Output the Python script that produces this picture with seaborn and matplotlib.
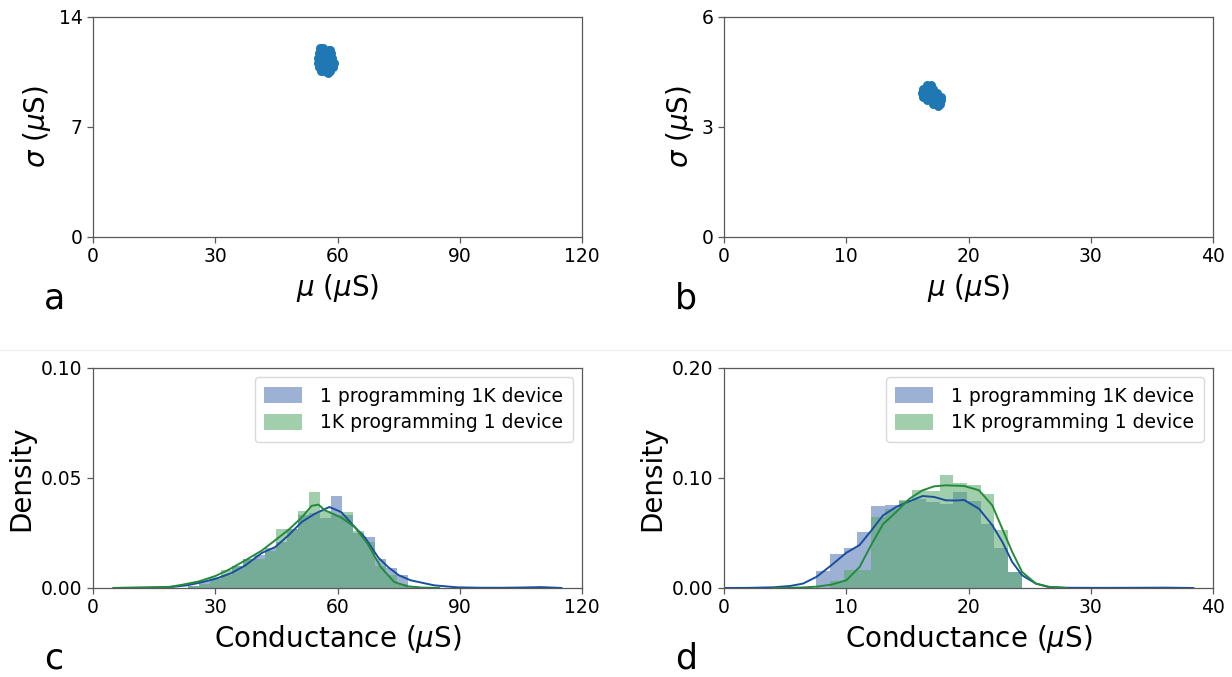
import numpy as np
import pandas as pd
import matplotlib
matplotlib.use("Agg")
import matplotlib.pyplot as plt
from matplotlib.lines import Line2D
import seaborn as sns

# ---------------- data ----------------
# panel a: (mu, sigma) per device cluster
mu_a = [55.8, 56.4, 57.8, 58.2,
        55.5, 56.2, 56.9, 57.6, 58.3,
        55.2, 55.9, 56.6, 57.3, 58.0, 58.7,
        55.1, 55.8, 56.5, 57.2, 57.9, 58.6, 59.1,
        55.4, 56.1, 56.8, 57.5, 58.2, 58.9,
        56.0, 56.7, 57.4, 58.1, 57.6]
sigma_a = [12.0, 12.0, 11.9, 11.9,
           11.7, 11.7, 11.7, 11.7, 11.7,
           11.4, 11.4, 11.4, 11.4, 11.4, 11.4,
           11.1, 11.1, 11.1, 11.1, 11.1, 11.1, 11.1,
           10.8, 10.8, 10.8, 10.8, 10.8, 10.8,
           10.55, 10.55, 10.55, 10.55, 10.45]

# panel b
mu_b = [16.6, 16.9,
        16.3, 16.6, 16.9, 17.1,
        16.2, 16.5, 16.8, 17.1, 17.4,
        16.3, 16.6, 16.9, 17.2, 17.5, 17.75,
        16.6, 16.9, 17.2, 17.5, 17.75,
        17.1, 17.4, 17.7, 17.5]
sigma_b = [4.13, 4.13,
           4.03, 4.03, 4.03, 4.03,
           3.93, 3.93, 3.93, 3.93, 3.93,
           3.83, 3.83, 3.83, 3.83, 3.83, 3.83,
           3.73, 3.73, 3.73, 3.73, 3.73,
           3.63, 3.63, 3.63, 3.57]

# panel c histograms (bin edges / densities)
edges_c = [23.2 + 2.7 * k for k in range(22)]
blue_c = [0.001, 0.003, 0.004, 0.006, 0.010, 0.013, 0.015, 0.018, 0.021, 0.027, 0.033,
          0.034, 0.032, 0.042, 0.033, 0.025, 0.023, 0.013, 0.009, 0.006, 0.001]
green_c = [0.001, 0.002, 0.005, 0.008, 0.010, 0.013, 0.013, 0.017, 0.027, 0.027, 0.035,
           0.0435, 0.035, 0.033, 0.0345, 0.026, 0.021, 0.010, 0.006, 0.002, 0.0]
kde_blue_c_x = [5, 10, 15, 19.5, 23, 26, 30.1, 34, 37.4, 41.4, 44.7, 48, 51.2, 54.5, 58,
                60.9, 64.2, 66.7, 70, 72.4, 75, 77.9, 83.7, 89.3, 95, 100, 105, 110, 115]
kde_blue_c_y = [0.0, 0.0001, 0.0002, 0.0005, 0.0012, 0.0023, 0.0042, 0.0068, 0.0103, 0.0159,
                0.0186, 0.024, 0.030, 0.0338, 0.0368, 0.0345, 0.0277, 0.023, 0.0138, 0.0095,
                0.0058, 0.0035, 0.0012, 0.0003, 0.0001, 0.0001, 0.0002, 0.0004, 0.0]
kde_green_c_x = [5, 12, 18.7, 22, 26, 30.1, 33.3, 37.4, 41.4, 44.7, 48, 51.2, 53.6, 55.3,
                 56.9, 58.5, 60.9, 64.2, 67.4, 70.6, 73.9, 77.1, 80.4, 85]
kde_green_c_y = [0.0, 0.0002, 0.0005, 0.0015, 0.003, 0.0055, 0.0083, 0.0126, 0.017, 0.0217,
                 0.0265, 0.032, 0.0373, 0.0379, 0.0353, 0.034, 0.032, 0.0277, 0.020, 0.0095,
                 0.0027, 0.0008, 0.0002, 0.0]

# panel d histograms
edges_d = [7.55 + 1.12 * k for k in range(16)]
blue_d = [0.0152, 0.031, 0.0367, 0.051, 0.0745, 0.0758, 0.079, 0.081, 0.078, 0.0767,
          0.087, 0.079, 0.058, 0.036, 0.0145]
green_d = [0.0, 0.006, 0.0167, 0.0167, 0.0645, 0.072, 0.080, 0.089, 0.088, 0.1024,
           0.0955, 0.094, 0.085, 0.053, 0.0145]
kde_blue_d_x = [0, 2, 4, 5.4, 6.46, 7.55, 8.77, 10.0, 11.08, 12.03, 13.0, 14.07, 15.15,
                16.24, 17.19, 18.14, 19.0, 19.63, 20.85, 21.94, 22.75, 23.57, 24.38, 25.5,
                26.5, 28, 31, 34, 36, 38.4]
kde_blue_d_y = [0.0, 0.0001, 0.0006, 0.0018, 0.004, 0.010, 0.0206, 0.032, 0.039, 0.052,
                0.066, 0.0736, 0.0788, 0.0836, 0.0827, 0.0797, 0.0795, 0.080, 0.072, 0.057,
                0.042, 0.0236, 0.0115, 0.004, 0.001, 0.0002, 0.0001, 0.0002, 0.0003, 0.0]
kde_green_d_x = [4, 5.4, 6.5, 7.55, 8.77, 10.0, 11.08, 12.03, 13.0, 14.07, 15.15, 16.24,
                 17.19, 18.14, 19.63, 20.85, 21.94, 22.75, 23.57, 24.38, 25.5, 26.6, 28]
kde_green_d_y = [0.0, 0.0002, 0.0005, 0.0012, 0.003, 0.007, 0.019, 0.039, 0.058, 0.069,
                 0.081, 0.0888, 0.0924, 0.0933, 0.0927, 0.0888, 0.075, 0.054, 0.0327,
                 0.0145, 0.004, 0.001, 0.0]

label_blue = "1 programming 1K device"
label_green = "1K programming 1 device"

# ---------------- style ----------------
sns.set_style("ticks", {"axes.edgecolor": "0.35", "xtick.color": "0.35", "ytick.color": "0.35",
                        "text.color": "black", "axes.labelcolor": "black"})
plt.rcParams["font.family"] = ["DejaVu Sans"]
plt.rcParams["xtick.labelcolor"] = "black"
plt.rcParams["ytick.labelcolor"] = "black"
plt.rcParams["text.color"] = "black"
plt.rcParams["axes.labelcolor"] = "black"
plt.rcParams["mathtext.fontset"] = "dejavusans"

HIST_BLUE = "#4C72B0"
HIST_GREEN = "#55A868"
LINE_BLUE = "#1a4fa0"
LINE_GREEN = "#238b3a"
SCAT = "#1f77b4"

fig = plt.figure(figsize=(12.32, 6.77), dpi=100)
W = 0.397
H = 0.325
ax_a = fig.add_axes([0.0755, 0.650, W, H])
ax_b = fig.add_axes([0.5877, 0.650, W, H])
ax_c = fig.add_axes([0.0755, 0.1315, W, H])
ax_d = fig.add_axes([0.5877, 0.1315, W, H])

TICK_FS = 13.5
LABEL_FS = 20

def style_axes(ax):
    for s in ax.spines.values():
        s.set_visible(True)
        s.set_linewidth(0.9)
    ax.tick_params(labelsize=TICK_FS, length=4, width=0.9, labelcolor="black")

# scatter panels
sns.scatterplot(x=mu_a, y=sigma_a, ax=ax_a, color=SCAT, s=42, linewidth=0)
ax_a.set_xlim(0, 120); ax_a.set_ylim(0, 14)
ax_a.set_xticks([0, 30, 60, 90, 120]); ax_a.set_yticks([0, 7, 14])
ax_a.set_xlabel(r"$\mu$ ($\mu$S)", fontsize=LABEL_FS)
ax_a.set_ylabel(r"$\sigma$ ($\mu$S)", fontsize=LABEL_FS)

sns.scatterplot(x=mu_b, y=sigma_b, ax=ax_b, color=SCAT, s=42, linewidth=0)
ax_b.set_xlim(0, 40); ax_b.set_ylim(0, 6)
ax_b.set_xticks([0, 10, 20, 30, 40]); ax_b.set_yticks([0, 3, 6])
ax_b.set_xlabel(r"$\mu$ ($\mu$S)", fontsize=LABEL_FS)
ax_b.set_ylabel(r"$\sigma$ ($\mu$S)", fontsize=LABEL_FS)

def centers(edges):
    e = np.asarray(edges)
    return (e[:-1] + e[1:]) / 2

def hist_panel(ax, edges, blue, green, kbx, kby, kgx, kgy):
    c = centers(edges)
    sns.histplot(x=c, weights=blue, bins=edges, ax=ax, color=HIST_BLUE, alpha=0.55,
                 linewidth=0, label=label_blue)
    sns.histplot(x=c, weights=green, bins=edges, ax=ax, color=HIST_GREEN, alpha=0.55,
                 linewidth=0, label=label_green)
    sns.lineplot(x=kbx, y=kby, ax=ax, color=LINE_BLUE, linewidth=1.4)
    sns.lineplot(x=kgx, y=kgy, ax=ax, color=LINE_GREEN, linewidth=1.4)
    ax.set_ylabel("Density", fontsize=LABEL_FS)
    ax.set_xlabel(r"Conductance ($\mu$S)", fontsize=LABEL_FS)
    ax.legend(loc="upper right", fontsize=13.5, frameon=True, handlelength=2.0,
              handleheight=0.9, borderpad=0.5, labelspacing=0.4, handletextpad=1.0,
              edgecolor="0.85", fancybox=True, framealpha=1, labelcolor="black")

hist_panel(ax_c, edges_c, blue_c, green_c, kde_blue_c_x, kde_blue_c_y, kde_green_c_x, kde_green_c_y)
ax_c.set_xlim(0, 120); ax_c.set_ylim(0, 0.10)
ax_c.set_xticks([0, 30, 60, 90, 120]); ax_c.set_yticks([0, 0.05, 0.10])
ax_c.set_yticklabels(["0.00", "0.05", "0.10"])

hist_panel(ax_d, edges_d, blue_d, green_d, kde_blue_d_x, kde_blue_d_y, kde_green_d_x, kde_green_d_y)
ax_d.set_xlim(0, 40); ax_d.set_ylim(0, 0.20)
ax_d.set_xticks([0, 10, 20, 30, 40]); ax_d.set_yticks([0, 0.10, 0.20])
ax_d.set_yticklabels(["0.00", "0.10", "0.20"])

for ax in (ax_a, ax_b, ax_c, ax_d):
    style_axes(ax)

# panel letters
for txt, x, y in [("a", 0.036, 0.545), ("b", 0.548, 0.545), ("c", 0.036, 0.012), ("d", 0.548, 0.012)]:
    fig.text(x, y, txt, fontsize=25, va="baseline", ha="left", color="black")

# faint separator line between the two rows
fig.add_artist(Line2D([0.0, 1.0], [0.483, 0.483], color="#f0f0f0", linewidth=1.0,
                      transform=fig.transFigure))

fig.savefig("out.png", dpi=100)
